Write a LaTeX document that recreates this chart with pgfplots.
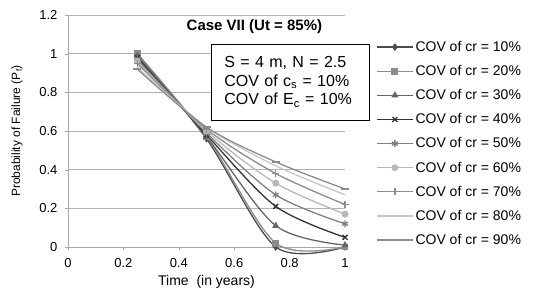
\documentclass[border=0pt]{standalone}
\usepackage{pgfplots}
\pgfplotsset{compat=1.18}
\usepackage{fontspec}
\setmainfont{Liberation Sans}
\begin{document}
\begin{tikzpicture}
\useasboundingbox (-68pt,-49pt) rectangle (466pt,247pt);
\begin{axis}[
  at={(0,0)}, anchor=south west,
  scale only axis, width=277pt, height=232pt,
  xmin=0, xmax=1, ymin=0, ymax=1.2,
  xtick={0,0.2,...,1}, ytick={0,0.2,...,1.2},
  axis x line*=bottom, axis y line*=left,
  axis line style={draw=gray!70},
  x axis line style={-}, y axis line style={-},
  tick style={draw=gray!70}, tick align=outside, major tick length=3pt,
  ymajorgrids, grid style={draw=gray!60, line width=0.6pt},
  ticklabel style={font=\fontsize{13}{15}\selectfont},
  xticklabel style={yshift=-5pt},
  yticklabel style={xshift=-4pt},
  /pgf/number format/assume math mode=true,
  xlabel={Time\ \ (in years)}, ylabel={Probability of Failure (P$_\mathrm{f}$)},
  xlabel style={font=\fontsize{14}{16}\selectfont, yshift=-1pt},
  ylabel style={font=\fontsize{12}{14}\selectfont, yshift=10pt},
  clip=false,
  legend style={at={(1.112,0.905)}, anchor=north west, draw=none, fill=none,
    font=\fontsize{14}{16}\selectfont, row sep=8.5pt,
    legend cell align=left, inner xsep=0pt, nodes={inner xsep=2pt}},
  legend image code/.code={\draw[mark repeat=2,mark phase=2] plot coordinates {(0pt,0pt) (18pt,0pt) (36pt,0pt)};},
  every axis plot/.append style={line width=1.3pt, smooth, mark size=2.8pt},
]
\addplot[color=black!70, mark=diamond*] coordinates {(0.25,1.0) (0.5,0.56) (0.75,0.0) (1,0.0)};
\addlegendentry{COV of cr = 10\%}
\addplot[color=black!45, mark=square*] coordinates {(0.25,1.0) (0.5,0.57) (0.75,0.02) (1,0.0)};
\addlegendentry{COV of cr = 20\%}
\addplot[color=black!60, mark=triangle*] coordinates {(0.25,0.99) (0.5,0.57) (0.75,0.11) (1,0.01)};
\addlegendentry{COV of cr = 30\%}
\addplot[color=black!80, mark=x, mark size=3.5pt] coordinates {(0.25,0.98) (0.5,0.58) (0.75,0.21) (1,0.05)};
\addlegendentry{COV of cr = 40\%}
\addplot[color=black!50, mark=asterisk, mark size=3.5pt] coordinates {(0.25,0.97) (0.5,0.59) (0.75,0.27) (1,0.12)};
\addlegendentry{COV of cr = 50\%}
\addplot[color=black!28, mark=*] coordinates {(0.25,0.96) (0.5,0.60) (0.75,0.33) (1,0.17)};
\addlegendentry{COV of cr = 60\%}
\addplot[color=black!45, mark=+, mark size=3.5pt] coordinates {(0.25,0.95) (0.5,0.61) (0.75,0.38) (1,0.22)};
\addlegendentry{COV of cr = 70\%}
\addplot[color=black!22, mark=none] coordinates {(0.25,0.93) (0.5,0.62) (0.75,0.42) (1,0.27)};
\addlegendentry{COV of cr = 80\%}
\addplot[color=black!45, mark=-, mark size=4pt] coordinates {(0.25,0.92) (0.5,0.62) (0.75,0.44) (1,0.30)};
\addlegendentry{COV of cr = 90\%}
\node[font=\bfseries\fontsize{15}{17}\selectfont] at (axis cs:0.673,1.14) {Case VII (Ut = 85\%)};
\node[draw=black, fill=white, line width=0.8pt, align=left, inner xsep=0pt, inner ysep=0pt,
  font=\fontsize{16}{18.5}\selectfont, minimum width=158pt, minimum height=76pt, text width=132pt]
  at (axis cs:0.803,0.853) {S = 4 m, N = 2.5\\COV of c$_\mathrm{s}$ = 10\%\\COV of E$_\mathrm{c}$ = 10\%};
\end{axis}
\end{tikzpicture}
\end{document}
